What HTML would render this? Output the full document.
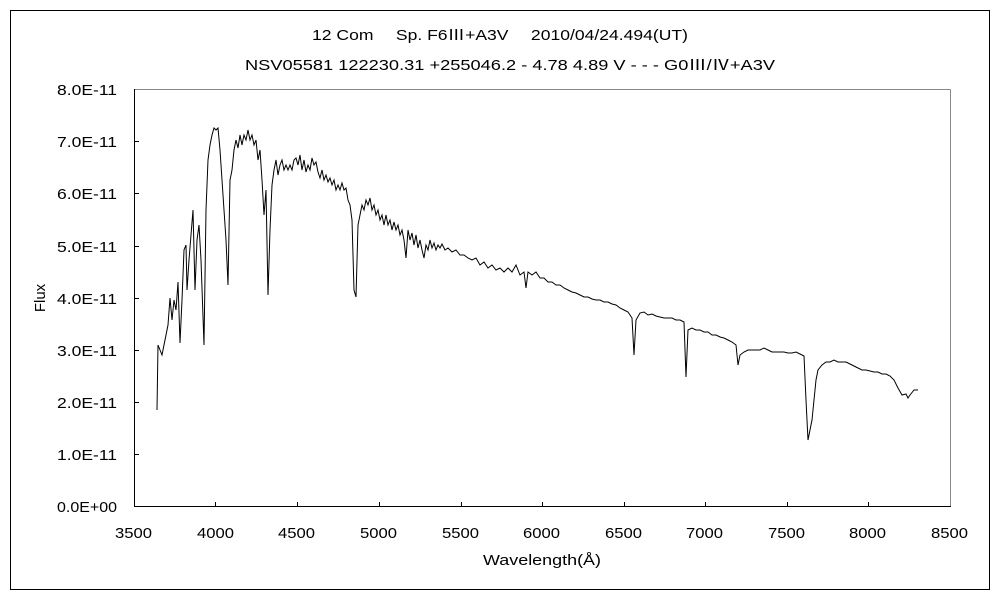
<!DOCTYPE html>
<html><head><meta charset="utf-8"><style>
html,body{margin:0;padding:0;background:#fff;}
svg text{font-family:"Liberation Sans","Noto Sans CJK JP",sans-serif;fill:#000;}
</style></head><body>
<svg width="1000" height="600" xmlns="http://www.w3.org/2000/svg">
<rect x="0" y="0" width="1000" height="600" fill="#fff"/>
<rect x="10.5" y="10.5" width="979" height="579" fill="none" stroke="#000" stroke-width="1"/>
<text x="312" y="40" font-size="15" textLength="376" lengthAdjust="spacingAndGlyphs">12 Com　 Sp. F6Ⅲ+A3V　 2010/04/24.494(UT)</text>
<text x="245" y="70" font-size="15" textLength="530" lengthAdjust="spacingAndGlyphs">NSV05581 122230.31 +255046.2 - 4.78 4.89 V - - - G0Ⅲ/Ⅳ+A3V</text>
<line x1="134.5" y1="89.5" x2="950.5" y2="89.5" stroke="#888"/>
<line x1="950.5" y1="89.5" x2="950.5" y2="506.5" stroke="#888"/>
<line x1="134.5" y1="89" x2="134.5" y2="507" stroke="#000"/>
<line x1="134" y1="506.5" x2="951" y2="506.5" stroke="#000"/>
<g stroke="#000">
<line x1="134" y1="454.5" x2="139" y2="454.5"/><line x1="134" y1="402.5" x2="139" y2="402.5"/><line x1="134" y1="350.5" x2="139" y2="350.5"/><line x1="134" y1="298.5" x2="139" y2="298.5"/><line x1="134" y1="246.5" x2="139" y2="246.5"/><line x1="134" y1="193.5" x2="139" y2="193.5"/><line x1="134" y1="141.5" x2="139" y2="141.5"/>
<line x1="215.5" y1="506" x2="215.5" y2="502"/><line x1="297.5" y1="506" x2="297.5" y2="502"/><line x1="379.5" y1="506" x2="379.5" y2="502"/><line x1="461.5" y1="506" x2="461.5" y2="502"/><line x1="542.5" y1="506" x2="542.5" y2="502"/><line x1="624.5" y1="506" x2="624.5" y2="502"/><line x1="705.5" y1="506" x2="705.5" y2="502"/><line x1="787.5" y1="506" x2="787.5" y2="502"/><line x1="868.5" y1="506" x2="868.5" y2="502"/>
</g>
<g font-size="15">
<text x="57" y="512" textLength="60" lengthAdjust="spacingAndGlyphs">0.0E+00</text>
<text x="57" y="460" textLength="60" lengthAdjust="spacingAndGlyphs">1.0E-11</text>
<text x="57" y="408" textLength="60" lengthAdjust="spacingAndGlyphs">2.0E-11</text>
<text x="57" y="356" textLength="60" lengthAdjust="spacingAndGlyphs">3.0E-11</text>
<text x="57" y="304" textLength="60" lengthAdjust="spacingAndGlyphs">4.0E-11</text>
<text x="57" y="252" textLength="60" lengthAdjust="spacingAndGlyphs">5.0E-11</text>
<text x="57" y="199" textLength="60" lengthAdjust="spacingAndGlyphs">6.0E-11</text>
<text x="57" y="147" textLength="60" lengthAdjust="spacingAndGlyphs">7.0E-11</text>
<text x="57" y="95" textLength="60" lengthAdjust="spacingAndGlyphs">8.0E-11</text>
</g>
<g font-size="15">
<text x="115" y="538" textLength="37" lengthAdjust="spacingAndGlyphs">3500</text>
<text x="197" y="538" textLength="37" lengthAdjust="spacingAndGlyphs">4000</text>
<text x="278" y="538" textLength="37" lengthAdjust="spacingAndGlyphs">4500</text>
<text x="360" y="538" textLength="37" lengthAdjust="spacingAndGlyphs">5000</text>
<text x="442" y="538" textLength="37" lengthAdjust="spacingAndGlyphs">5500</text>
<text x="523" y="538" textLength="37" lengthAdjust="spacingAndGlyphs">6000</text>
<text x="605" y="538" textLength="37" lengthAdjust="spacingAndGlyphs">6500</text>
<text x="686" y="538" textLength="37" lengthAdjust="spacingAndGlyphs">7000</text>
<text x="768" y="538" textLength="37" lengthAdjust="spacingAndGlyphs">7500</text>
<text x="849" y="538" textLength="37" lengthAdjust="spacingAndGlyphs">8000</text>
<text x="931" y="538" textLength="37" lengthAdjust="spacingAndGlyphs">8500</text>
<text x="483" y="565" textLength="118" lengthAdjust="spacingAndGlyphs">Wavelength(Å)</text>
</g>
<text x="45" y="298" font-size="15" text-anchor="middle" transform="rotate(-90 45 298)">Flux</text>
<polyline fill="none" stroke="#000" stroke-width="1" points="157,410 158,345 160,350 162,355 165,340 168,325 170,298 172,320 174,300 176,310 178,282 180,343 182,300 184,250 186,245 187,290 189,260 191,235 193,210 195,290 197,240 199,225 201,260 204,345 206,210 208,160 210,145 212,135 214,128 216,130 218,128 220,150 222,180 224,210 226,240 228,285 230,180 232,170 234,150 236,140 238,148 240,135 242,145 244,135 246,140 248,130 250,140 252,135 254,145 256,140 258,160 260,150 262,180 264,215 266,190 268,295 270,230 272,185 274,170 276,160 278,175 280,165 282,160 284,170 286,165 288,170 290,165 292,170 294,160 296,158 298,165 300,155 302,170 304,160 306,172 308,165 310,170 312,158 314,165 316,162 318,172 320,178 322,170 324,180 326,175 328,182 330,178 332,185 334,180 336,190 338,185 340,190 342,183 344,190 346,188 348,200 350,205 352,220 354,290 356,297 358,225 360,215 362,205 364,210 366,200 368,205 370,198 372,210 374,205 376,215 378,210 380,220 382,215 384,225 386,215 388,225 390,220 392,230 394,222 396,230 398,225 400,235 402,230 404,240 406,258 408,230 410,240 412,233 414,245 416,235 418,248 420,240 422,250 424,258 426,245 428,250 430,240 432,248 434,243 436,250 438,245 440,248 442,244 445,250 448,248 452,252 456,250 460,255 464,255 468,258 472,260 476,258 480,265 484,262 488,268 492,265 496,270 500,268 504,272 508,268 512,272 516,265 520,275 524,272 526,288 528,272 532,275 536,272 540,278 544,278 548,282 552,282 556,285 560,285 564,288 568,290 572,292 576,293 580,295 584,297 588,297 592,299 596,300 600,300 604,302 608,302 612,304 616,305 620,308 624,310 628,312 632,318 634,355 636,320 640,313 644,312 648,315 652,314 656,316 660,317 664,318 668,318 672,318 676,320 680,320 684,322 686,377 688,330 692,328 696,330 700,330 704,332 708,332 712,335 716,335 720,337 724,338 728,340 732,342 736,345 738,365 740,355 744,352 748,350 752,350 756,350 760,350 764,348 768,350 772,352 776,352 780,352 784,352 788,353 792,353 796,352 800,354 804,356 806,400 808,440 810,430 812,420 814,400 816,380 818,370 822,365 826,362 830,362 834,360 838,362 842,362 846,362 850,364 854,366 858,368 862,370 866,370 870,371 874,372 878,372 882,374 886,374 890,376 894,380 898,388 902,395 906,394 908,398 910,395 914,390 918,390"/>
</svg>
</body></html>
